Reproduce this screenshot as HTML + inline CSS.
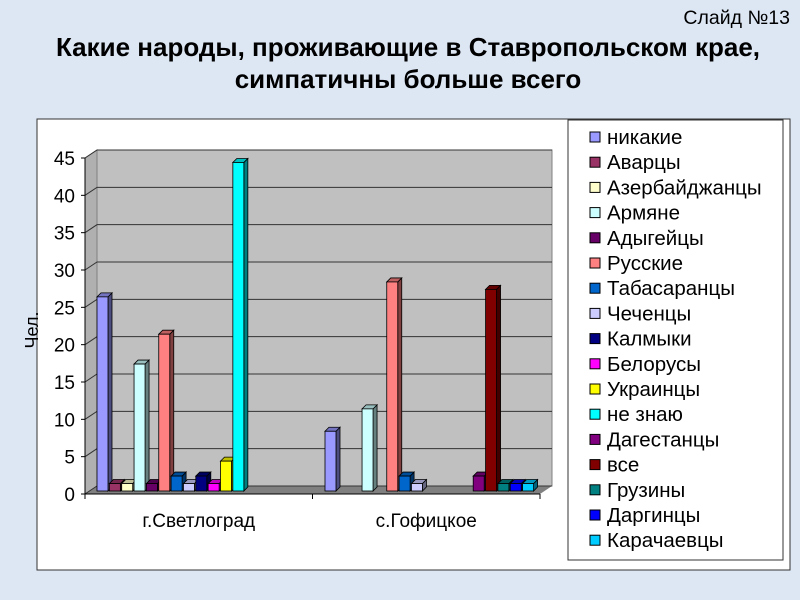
<!DOCTYPE html>
<html><head><meta charset="utf-8"><style>
body{margin:0;width:800px;height:600px;overflow:hidden;background:#dfe8f5;font-family:"Liberation Sans",sans-serif}
</style></head><body>
<svg width="800" height="600" viewBox="0 0 800 600" style="display:block">
<rect x="0" y="0" width="800" height="600" fill="#dde7f4"/>
<text x="790" y="24" text-anchor="end" font-size="19.5" fill="#000">Слайд №13</text>
<text x="408" y="56" text-anchor="middle" font-size="26" font-weight="bold">Какие народы, проживающие в Ставропольском крае,</text>
<text x="408" y="88" text-anchor="middle" font-size="26" font-weight="bold">симпатичны больше всего</text>
<rect x="37" y="119" width="753" height="451" fill="#fff" stroke="#333"/>
<rect x="568" y="120" width="215" height="440" fill="#fff" stroke="#333"/>
<g id="chart"></g>
<g id="legend"></g>
<text x="38" y="330" font-size="18" transform="rotate(-90 38 330)" text-anchor="middle">Чел.</text>
</svg>
<script>
const categories=["г.Светлоград","с.Гофицкое"];
const seriesNames=["никакие","Аварцы","Азербайджанцы","Армяне","Адыгейцы","Русские","Табасаранцы","Чеченцы","Калмыки","Белорусы","Украинцы","не знаю","Дагестанцы","все","Грузины","Даргинцы","Карачаевцы"];
const seriesColors=["#9999ff","#993366","#ffffcc","#ccffff","#660066","#ff8080","#0066cc","#ccccff","#000080","#ff00ff","#ffff00","#00ffff","#800080","#800000","#008080","#0000ff","#00ccff"];
const valuesSvetlograd=[26,1,1,17,1,21,2,1,2,1,4,44,0,0,0,0,0];
const valuesGofitskoe=[8,0,0,11,0,28,2,1,0,0,0,0,2,27,1,1,1];
const yTicks=[0,5,10,15,20,25,30,35,40,45];
const NS="http://www.w3.org/2000/svg";
const g=document.getElementById('chart'), lg=document.getElementById('legend');
const y0=494, yTop=158, yMax=45, dx=12, dy=8;
const y=v=>y0-(v/yMax)*(y0-yTop);
const xL=85, xR=540;
const groupStart=[97,325], slot=12.35, bw=11;
function el(t,a,p){const e=document.createElementNS(NS,t);for(const k in a)e.setAttribute(k,a[k]);(p||g).appendChild(e);return e;}
let w=el('polygon',{points:`${xL+dx},${yTop-dy} ${xR+dx},${yTop-dy} ${xR+dx},${y0-dy} ${xL+dx},${y0-dy}`,fill:'#c0c0c0',stroke:'#808080'});


w=el('polygon',{points:`${xL},${yTop} ${xL+dx},${yTop-dy} ${xL+dx},${y0-dy} ${xL},${y0}`,fill:'#b0b0b0',stroke:'#808080'});


w=el('polygon',{points:`${xL},${y0} ${xL+dx},${y0-dy} ${xR+dx},${y0-dy} ${xR},${y0}`,fill:'#808080'});


yTicks.forEach(v=>{
  const l=el('polyline',{points:`${xL},${y(v)} ${xL+dx},${y(v)-dy} ${xR+dx},${y(v)-dy}`,fill:'none',stroke:'#333','stroke-width':1});
  
  
  const t=el('text',{x:xL-10,y:y(v)+7,'text-anchor':'end','font-size':19});
  t.textContent=v;
  
  
  el('line',{x1:xL-4,y1:y(v),x2:xL,y2:y(v),stroke:'#000'});
});
let ax=el('line',{x1:xL,y1:yTop,x2:xL,y2:y0,stroke:'#000'});


ax=el('line',{x1:xL,y1:y0,x2:xR,y2:y0,stroke:'#000'});


[xL,(xL+xR)/2,xR].forEach(x=>el('line',{x1:x,y1:y0,x2:x,y2:y0+5,stroke:'#000'}));
categories.forEach((c,i)=>{
  const t=el('text',{x:xL+(xR-xL)*(i+0.5)/2,y:y0+33,'text-anchor':'middle','font-size':19});
  t.textContent=c;
  
  
});
function shade(hex,f){const n=parseInt(hex.slice(1),16);const r=Math.round(((n>>16)&255)*f),gg=Math.round(((n>>8)&255)*f),b=Math.round((n&255)*f);return `rgb(${r},${gg},${b})`;}
[valuesSvetlograd,valuesGofitskoe].forEach((vals,gi)=>{
  vals.forEach((v,si)=>{
    if(v<=0)return;
    const x=groupStart[gi]+si*slot, yt=y(v)-3, yb=y0-3, d=4;
    const grp=el('g',{});
    
    
    el('polygon',{points:`${x+bw},${yt} ${x+bw+d},${yt-d} ${x+bw+d},${yb-d} ${x+bw},${yb}`,fill:shade(seriesColors[si],0.5),stroke:'#000','stroke-width':0.8},grp);
    el('polygon',{points:`${x},${yt} ${x+d},${yt-d} ${x+bw+d},${yt-d} ${x+bw},${yt}`,fill:shade(seriesColors[si],0.75),stroke:'#000','stroke-width':0.8},grp);
    el('rect',{x:x,y:yt,width:bw,height:yb-yt,fill:seriesColors[si],stroke:'#000','stroke-width':0.8},grp);
  });
});
seriesNames.forEach((n,i)=>{
  const cy=137+i*25.2;
  const e=el('g',{},lg);
  
  
  el('rect',{x:590,y:cy-5,width:10,height:10,fill:seriesColors[i],stroke:'#000'},e);
  const t=el('text',{x:607,y:cy+7,'font-size':20.5},e);
  t.textContent=n;
});
</script>
</body></html>
